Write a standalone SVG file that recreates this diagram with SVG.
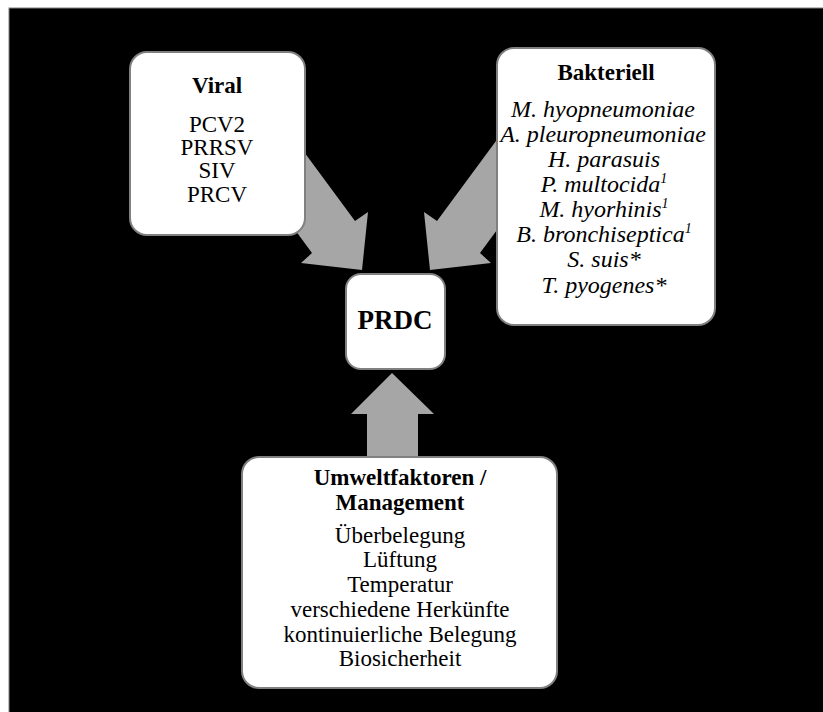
<svg xmlns="http://www.w3.org/2000/svg" width="823" height="712" viewBox="0 0 823 712">
<style>
.box{fill:#fff;stroke:#808080;stroke-width:2}
.arr{fill:#a6a6a6}
.t{font-family:"Liberation Serif",serif;font-weight:bold;font-size:23px;text-anchor:middle;fill:#000}
.r{font-family:"Liberation Serif",serif;font-size:23px;text-anchor:middle;fill:#000}
.u{font-family:"Liberation Serif",serif;font-size:23px;text-anchor:middle;fill:#000}
.it{font-family:"Liberation Serif",serif;font-size:24px;font-style:italic;text-anchor:middle;fill:#000}
.sup{font-size:14px}
</style>
<rect x="0" y="0" width="823" height="712" fill="#fff"/>
<rect x="9" y="8" width="816" height="706" fill="#000" stroke="#808080" stroke-width="1"/>
<g id="connectors">
<polygon class="arr" points="265,99 355,221 368,212 362,270 301,263 312,253 262,185"/>
<polygon class="arr" points="527,99 437,221 424,212 430,270 491,263 480,253 530,185"/>
<polygon class="arr" points="367,460 367,414 351,414 392,373 434,414 418,414 418,460"/>
</g>
<g id="viral">
<rect class="box" x="130" y="52" width="175" height="183" rx="17"/>
<text class="t" x="217" y="93">Viral</text>
<text class="r" x="217" y="132">PCV2</text>
<text class="r" x="217" y="155">PRRSV</text>
<text class="r" x="217" y="178">SIV</text>
<text class="r" x="217" y="202">PRCV</text>
</g>
<g id="bakteriell">
<rect class="box" x="497" y="48" width="218" height="277" rx="17"/>
<text class="t" x="606" y="80">Bakteriell</text>
<text class="it" x="603" y="117">M. hyopneumoniae</text>
<text class="it" x="603" y="142">A. pleuropneumoniae</text>
<text class="it" x="604" y="167">H. parasuis</text>
<text class="it" x="604" y="192">P. multocida<tspan class="sup" dy="-9">1</tspan></text>
<text class="it" x="604" y="217">M. hyorhinis<tspan class="sup" dy="-9">1</tspan></text>
<text class="it" x="604" y="242">B. bronchiseptica<tspan class="sup" dy="-9">1</tspan></text>
<text class="it" x="604" y="267">S. suis*</text>
<text class="it" x="604" y="293">T. pyogenes*</text>
</g>
<g id="prdc">
<rect class="box" x="346" y="274" width="99" height="95" rx="15"/>
<text class="t" x="395" y="329" style="font-size:27px">PRDC</text>
</g>
<g id="umwelt">
<rect class="box" x="242" y="457" width="315" height="231" rx="17"/>
<text class="t" x="400" y="485">Umweltfaktoren /</text>
<text class="t" x="400" y="510">Management</text>
<text class="u" x="400" y="543">Überbelegung</text>
<text class="u" x="400" y="567">Lüftung</text>
<text class="u" x="400" y="592">Temperatur</text>
<text class="u" x="400" y="617">verschiedene Herkünfte</text>
<text class="u" x="400" y="642">kontinuierliche Belegung</text>
<text class="u" x="400" y="666">Biosicherheit</text>
</g>
</svg>
